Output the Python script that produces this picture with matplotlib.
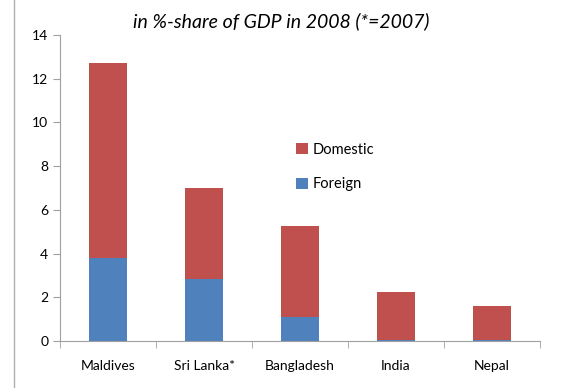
import numpy as np
import matplotlib.pyplot as plt
from matplotlib.lines import Line2D

# Data
countries = ["Maldives", "Sri Lanka*", "Bangladesh", "India", "Nepal"]
foreign = [3.8, 2.82, 1.12, 0.06, 0.06]
domestic_total = [12.72, 6.98, 5.26, 2.22, 1.58]
domestic = [t - f for t, f in zip(domestic_total, foreign)]

blue = "#4F81BD"
red = "#C0504D"
grey = "#A0A0A0"

plt.rcParams['font.family'] = ['Lato', 'DejaVu Sans']

fig = plt.figure(figsize=(5.62, 3.88), dpi=100)
ax = fig.add_axes([60 / 562, 47 / 388, 480 / 562, 306 / 388])

x = np.arange(len(countries))
ax.bar(x, foreign, width=0.4, color=blue, label="Foreign")
ax.bar(x, domestic, width=0.4, bottom=foreign, color=red, label="Domestic")

ax.set_xlim(-0.5, len(countries) - 0.5)
ax.set_ylim(0, 14)
ax.set_yticks(range(0, 15, 2))
ax.set_xticks(x)
ax.set_xticklabels(countries, fontsize=10)
ax.set_xticks(np.arange(-0.5, len(countries)), minor=True)
ax.tick_params(axis='x', which='major', length=0, pad=14)
ax.tick_params(axis='x', which='minor', length=5, color=grey)
ax.tick_params(axis='y', length=5, color=grey, labelsize=10)

for side in ['top', 'right']:
    ax.spines[side].set_visible(False)
for side in ['left', 'bottom']:
    ax.spines[side].set_color(grey)

# Legend: Domestic on top
handles, labels = ax.get_legend_handles_labels()
ax.legend(handles[::-1], labels[::-1], loc='upper left',
          bbox_to_anchor=(0.465, 0.69), frameon=False, fontsize=10.5,
          handlelength=0.8, handleheight=0.8, handletextpad=0.3,
          labelspacing=1.4)

fig.text(0.5, 0.945, "in %-share of GDP in 2008 (*=2007)", ha='center',
         va='center', fontsize=14, style='italic')

# thin border line at left edge
fig.add_artist(Line2D([14 / 562, 14 / 562], [0, 1], color='#B0B0B0', lw=1))

fig.savefig("out.png", dpi=100)
